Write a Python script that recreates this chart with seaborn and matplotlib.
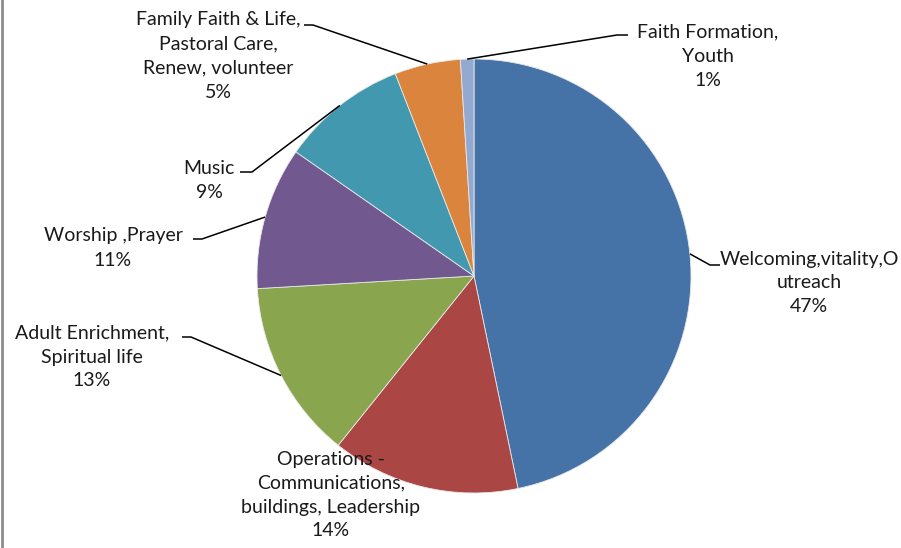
import numpy as np
import seaborn as sns
import matplotlib.pyplot as plt
from matplotlib.lines import Line2D

categories = ["Welcoming,vitality,O\nutreach",
              "Operations -\nCommunications,\nbuildings, Leadership",
              "Adult Enrichment,\nSpiritual life",
              "Worship ,Prayer",
              "Music",
              "Family Faith & Life,\nPastoral Care,\nRenew, volunteer",
              "Faith Formation,\nYouth"]
shares = [46.7, 14.0, 13.3, 10.6, 9.4, 4.9, 1.0]
colors = ["#4572A7", "#AA4643", "#89A54E", "#71588F", "#4198AF", "#DB843D", "#93A9CF"]

sns.set_style("white")
plt.rcParams['font.family'] = ['Lato', 'DejaVu Sans']

W, H = 901, 548
fig = plt.figure(figsize=(W / 100, H / 100), dpi=100)
ax = fig.add_axes([0, 0, 1, 1])

cx, cy, r = 474, H - 276, 217
wedges, _ = ax.pie(shares, colors=colors, startangle=90, counterclock=False,
                   center=(cx, cy), radius=r,
                   wedgeprops=dict(linewidth=0.6, edgecolor="#e8e8e8"))
ax.set_xlim(0, W)
ax.set_ylim(0, H)
ax.set_aspect("equal")
ax.axis("off")

# label layout in pixel coords (x, y from top), elbow start/end for leaders
layout = [
    dict(pos=(809, 283), lead=[(720, 265), (710, 265)]),
    dict(pos=(331, 495), lead=None),
    dict(pos=(92, 357), lead=[(182, 337), (191, 337)]),
    dict(pos=(113, 248), lead=[(193, 239), (202, 239)]),
    dict(pos=(209, 180), lead=[(240, 172), (252, 172)]),
    dict(pos=(218, 56), lead=[(304, 25), (313, 25)]),
    dict(pos=(708, 56), lead=[(628, 35), (617, 35)]),
]

for w, cat, val, lay in zip(wedges, categories, shares, layout):
    x, y = lay["pos"]
    ax.text(x, H - y, f"{cat}\n{round(val)}%", ha="center", va="center",
            fontsize=14, linespacing=1.5, color="#1a1a1a")
    if lay["lead"]:
        ang = np.deg2rad((w.theta1 + w.theta2) / 2)
        px, py = cx + r * np.cos(ang), cy + r * np.sin(ang)
        (x0, y0), (x1, y1) = lay["lead"]
        ax.plot([x0, x1, px], [H - y0, H - y1, py], color="black", lw=1.1,
                solid_capstyle="butt")

fig.add_artist(Line2D([0.002, 0.002], [0, 1], transform=fig.transFigure,
                      color="#8c8c8c", lw=2))

fig.savefig("out.png", dpi=100)
